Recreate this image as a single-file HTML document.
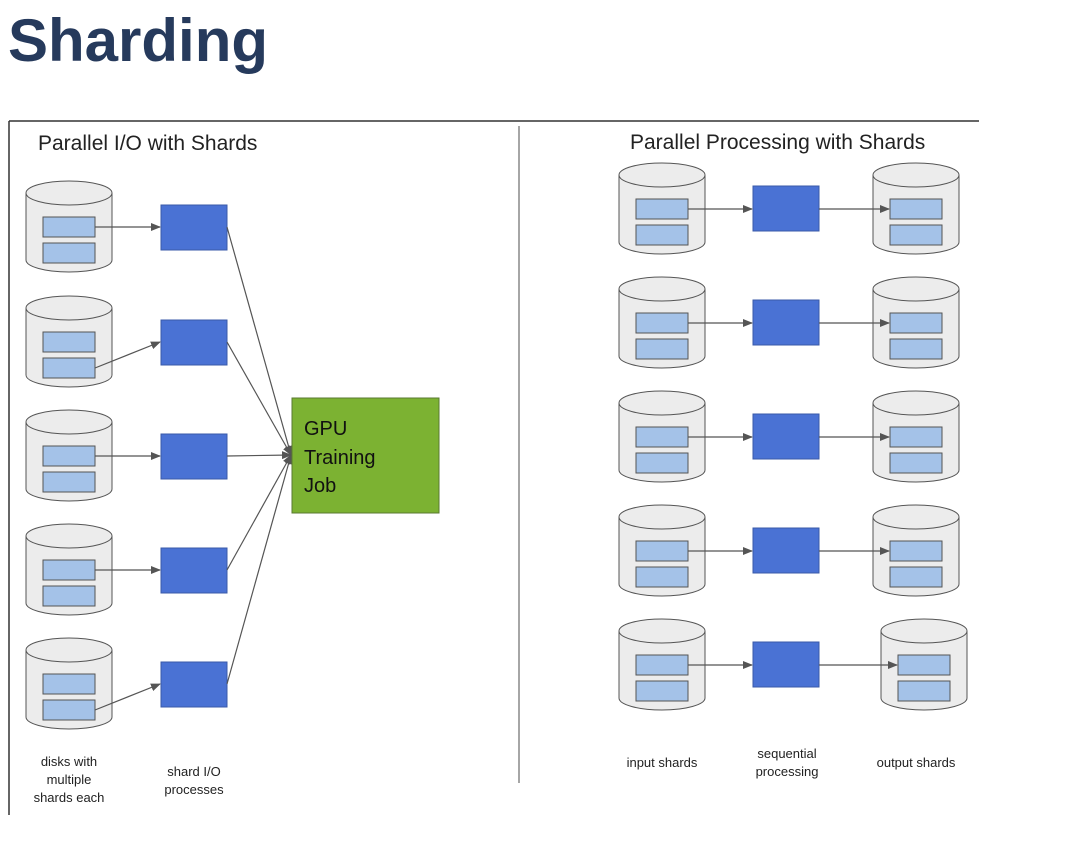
<!DOCTYPE html>
<html><head><meta charset="utf-8"><style>
body{margin:0;background:#fff;width:1072px;height:841px;overflow:hidden;font-family:"Liberation Sans",sans-serif}
</style></head><body>
<svg width="1072" height="841" font-family="Liberation Sans, sans-serif">
<defs><marker id="ah" markerWidth="10" markerHeight="8" refX="9" refY="4" orient="auto" markerUnits="userSpaceOnUse"><path d="M0,0 L10,4 L0,8 Z" fill="#555"/></marker></defs>
<text x="8" y="61" font-size="60" font-weight="bold" fill="#263a5c">Sharding</text>
<line x1="9" y1="121" x2="979" y2="121" stroke="#333" stroke-width="1.5"/>
<line x1="9" y1="121" x2="9" y2="815" stroke="#333" stroke-width="1.5"/>
<line x1="519" y1="126" x2="519" y2="783" stroke="#888" stroke-width="1.5"/>
<text x="38" y="150" font-size="21" fill="#222">Parallel I/O with Shards</text>
<text x="630" y="149" font-size="21" fill="#222">Parallel Processing with Shards</text>
<g id="g"></g>
<rect x="292" y="398" width="147" height="115" fill="#7cb232" stroke="#5a7a30"/>
<text font-size="20" fill="#111"><tspan x="304" y="435">GPU</tspan><tspan x="304" y="464">Training</tspan><tspan x="304" y="492">Job</tspan></text>
<g font-size="13" fill="#222" text-anchor="middle">
<text x="69" y="766"><tspan x="69">disks with</tspan><tspan x="69" dy="18">multiple</tspan><tspan x="69" dy="18">shards each</tspan></text>
<text x="194" y="776"><tspan x="194">shard I/O</tspan><tspan x="194" dy="18">processes</tspan></text>
<text x="662" y="767">input shards</text>
<text x="787" y="758"><tspan x="787">sequential</tspan><tspan x="787" dy="18">processing</tspan></text>
<text x="916" y="767">output shards</text>
</g>
</svg>
<script>
const NS='http://www.w3.org/2000/svg';
const g=document.getElementById('g');
function el(t,a,p){const e=document.createElementNS(NS,t);for(const k in a)e.setAttribute(k,a[k]);(p||g).appendChild(e);return e;}
function disk(x,y,name){
 const d=el('g',{});
 
 
 el('path',{d:`M${x},${y+12} L${x},${y+79} A43,12 0 0 0 ${x+86},${y+79} L${x+86},${y+12}`,fill:'#ececec',stroke:'#555','stroke-width':1},d);
 el('ellipse',{cx:x+43,cy:y+12,rx:43,ry:12,fill:'#ececec',stroke:'#555','stroke-width':1},d);
 el('rect',{x:x+17,y:y+36,width:52,height:20,fill:'#a4c2e8',stroke:'#555'},d);
 el('rect',{x:x+17,y:y+62,width:52,height:20,fill:'#a4c2e8',stroke:'#555'},d);
}
function box(x,y,name){const r=el('rect',{x:x,y:y,width:66,height:45,fill:'#4a72d4',stroke:'#3a5aa8'});
 
 }
function arrow(x1,y1,x2,y2,m){el('line',{x1,y1,x2,y2,stroke:'#555','stroke-width':1.2,'marker-end':m?'url(#ah)':''});}
const lTops=[181,296,410,524,638];
const lowRow=[false,true,false,false,true];
lTops.forEach((t,i)=>{
 disk(26,t,'left-disk-'+(i+1));
 const by=t+24;box(161,by,'io-process-'+(i+1));
 const sy=lowRow[i]?t+72:t+46;
 arrow(95,sy,160,by+22,true);
 arrow(227,by+22,291,455,true);
});
const rTops=[163,277,391,505,619];
rTops.forEach((t,i)=>{
 disk(619,t,'input-disk-'+(i+1));
 const ox=i==4?881:873;
 disk(ox,t,'output-disk-'+(i+1));
 box(753,t+23,'seq-process-'+(i+1));
 arrow(688,t+46,752,t+46,true);
 arrow(819,t+46,ox+16,t+46,true);
});
</script>
</body></html>
